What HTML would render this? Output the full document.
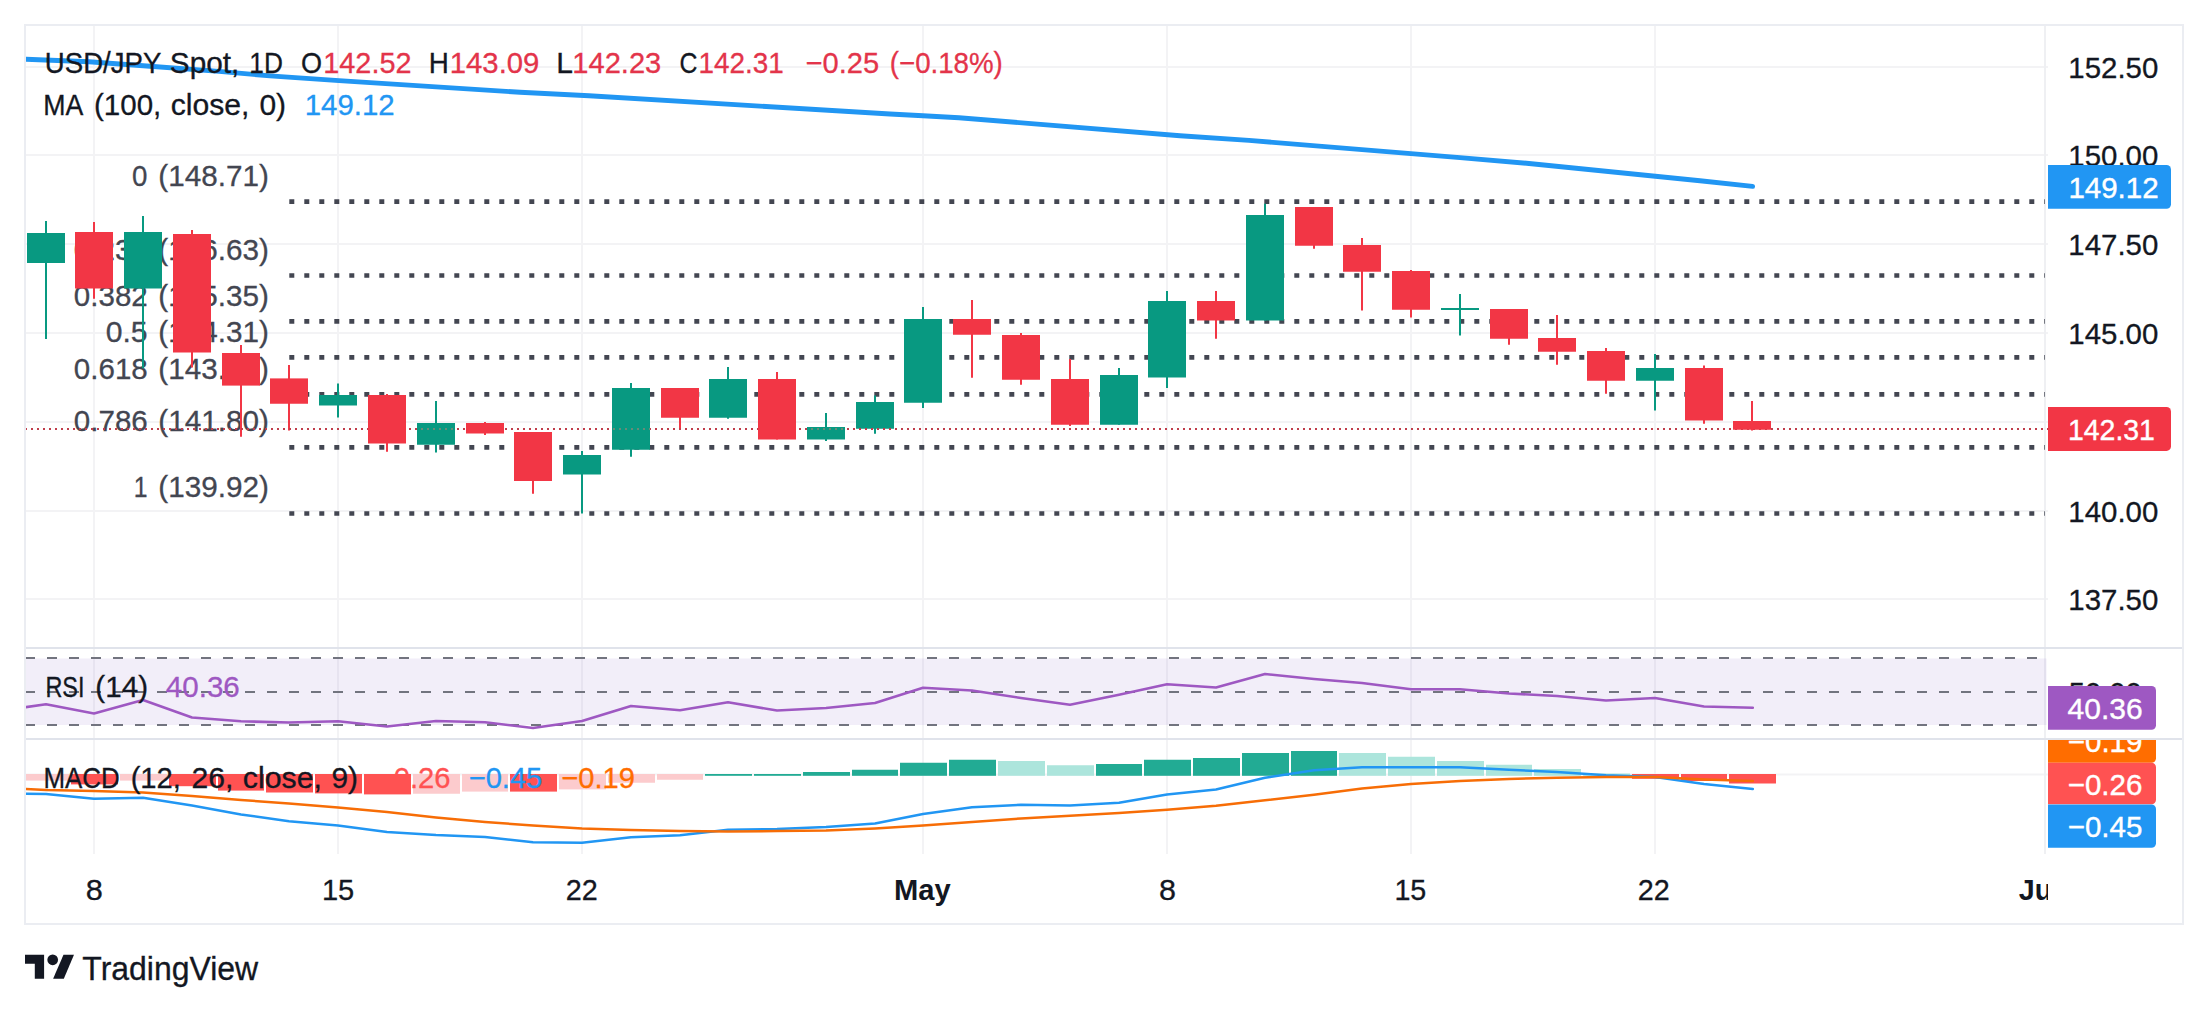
<!DOCTYPE html>
<html lang="en"><head><meta charset="utf-8"><title>USD/JPY Spot, 1D - TradingView</title>
<style>html,body{margin:0;padding:0;background:#fff;overflow:hidden}svg{display:block}</style></head>
<body>
<svg width="2208" height="1012" viewBox="0 0 2208 1012" font-family='"Liberation Sans", "DejaVu Sans", sans-serif'>
<rect width="2208" height="1012" fill="#fff"/>
<defs><clipPath id="cm"><rect x="26" y="26" width="2019" height="621"/></clipPath><clipPath id="cr"><rect x="26" y="649" width="2022" height="89"/></clipPath><clipPath id="cd"><rect x="26" y="740" width="2022" height="114"/></clipPath><clipPath id="cax"><rect x="2046" y="740" width="136" height="114"/></clipPath><clipPath id="ct"><rect x="26" y="854" width="2022" height="69"/></clipPath></defs>
<g fill="#f3f3f5"><rect x="26" y="66" width="2022" height="2"/><rect x="26" y="154" width="2022" height="2"/><rect x="26" y="243" width="2022" height="2"/><rect x="26" y="332" width="2022" height="2"/><rect x="26" y="421" width="2022" height="2"/><rect x="26" y="510" width="2022" height="2"/><rect x="26" y="598" width="2022" height="2"/><rect x="93" y="26" width="2" height="828"/><rect x="337" y="26" width="2" height="828"/><rect x="581" y="26" width="2" height="828"/><rect x="922" y="26" width="2" height="828"/><rect x="1166" y="26" width="2" height="828"/><rect x="1410" y="26" width="2" height="828"/><rect x="1654" y="26" width="2" height="828"/><rect x="26" y="773.5" width="2022" height="2"/></g>
<rect x="2044" y="26" width="2" height="828" fill="#eff0f3"/>
<g clip-path="url(#cm)">
<line x1="289.3" y1="201.6" x2="2047" y2="201.6" stroke="#434651" stroke-width="4.7" stroke-dasharray="5 10"/>
<line x1="289.3" y1="275.5" x2="2047" y2="275.5" stroke="#434651" stroke-width="4.7" stroke-dasharray="5 10"/>
<line x1="289.3" y1="321.4" x2="2047" y2="321.4" stroke="#434651" stroke-width="4.7" stroke-dasharray="5 10"/>
<line x1="289.3" y1="357.4" x2="2047" y2="357.4" stroke="#434651" stroke-width="4.7" stroke-dasharray="5 10"/>
<line x1="289.3" y1="394.3" x2="2047" y2="394.3" stroke="#434651" stroke-width="4.7" stroke-dasharray="5 10"/>
<line x1="289.3" y1="447.3" x2="2047" y2="447.3" stroke="#434651" stroke-width="4.7" stroke-dasharray="5 10"/>
<line x1="289.3" y1="513.5" x2="2047" y2="513.5" stroke="#434651" stroke-width="4.7" stroke-dasharray="5 10"/>
<text x="131.93" y="186.3" font-size="29.6" fill="#434651" stroke="#434651" stroke-width="0.3" textLength="15.40" lengthAdjust="spacingAndGlyphs">0</text>
<text x="158.39" y="186.3" font-size="29.6" fill="#434651" stroke="#434651" stroke-width="0.3" textLength="110.60" lengthAdjust="spacingAndGlyphs">(148.71)</text>
<text x="73.86" y="259.6" font-size="29.6" fill="#434651" stroke="#434651" stroke-width="0.3" textLength="73.89" lengthAdjust="spacingAndGlyphs">0.236</text>
<text x="158.39" y="259.6" font-size="29.6" fill="#434651" stroke="#434651" stroke-width="0.3" textLength="110.60" lengthAdjust="spacingAndGlyphs">(146.63)</text>
<text x="73.86" y="305.6" font-size="29.6" fill="#434651" stroke="#434651" stroke-width="0.3" textLength="73.94" lengthAdjust="spacingAndGlyphs">0.382</text>
<text x="158.39" y="305.6" font-size="29.6" fill="#434651" stroke="#434651" stroke-width="0.3" textLength="110.60" lengthAdjust="spacingAndGlyphs">(145.35)</text>
<text x="105.73" y="341.5" font-size="29.6" fill="#434651" stroke="#434651" stroke-width="0.3" textLength="41.89" lengthAdjust="spacingAndGlyphs">0.5</text>
<text x="158.39" y="341.5" font-size="29.6" fill="#434651" stroke="#434651" stroke-width="0.3" textLength="110.60" lengthAdjust="spacingAndGlyphs">(144.31)</text>
<text x="73.86" y="378.6" font-size="29.6" fill="#434651" stroke="#434651" stroke-width="0.3" textLength="73.90" lengthAdjust="spacingAndGlyphs">0.618</text>
<text x="158.39" y="378.6" font-size="29.6" fill="#434651" stroke="#434651" stroke-width="0.3" textLength="110.60" lengthAdjust="spacingAndGlyphs">(143.28)</text>
<text x="73.86" y="431.2" font-size="29.6" fill="#434651" stroke="#434651" stroke-width="0.3" textLength="73.89" lengthAdjust="spacingAndGlyphs">0.786</text>
<text x="158.39" y="431.2" font-size="29.6" fill="#434651" stroke="#434651" stroke-width="0.3" textLength="110.60" lengthAdjust="spacingAndGlyphs">(141.80)</text>
<text x="133.70" y="497" font-size="29.6" fill="#434651" stroke="#434651" stroke-width="0.3" textLength="13.78" lengthAdjust="spacingAndGlyphs">1</text>
<text x="158.39" y="497" font-size="29.6" fill="#434651" stroke="#434651" stroke-width="0.3" textLength="110.60" lengthAdjust="spacingAndGlyphs">(139.92)</text>
</g>
<g clip-path="url(#cm)">
<rect x="45" y="221" width="2" height="118" fill="#089981"/><rect x="27" y="233" width="38" height="30" fill="#089981"/>
<rect x="93" y="222" width="2" height="76.75" fill="#f23645"/><rect x="75" y="232" width="38" height="56.5" fill="#f23645"/>
<rect x="142" y="216" width="2" height="152.3" fill="#089981"/><rect x="124" y="232" width="38" height="56.5" fill="#089981"/>
<rect x="191" y="230" width="2" height="137.5" fill="#f23645"/><rect x="173" y="234" width="38" height="118.5" fill="#f23645"/>
<rect x="240" y="345" width="2" height="91.75" fill="#f23645"/><rect x="222" y="353" width="38" height="32.6" fill="#f23645"/>
<rect x="288" y="365" width="2" height="65.5" fill="#f23645"/><rect x="270" y="378.4" width="38" height="25.35" fill="#f23645"/>
<rect x="337" y="383.5" width="2" height="34.0" fill="#089981"/><rect x="319" y="395" width="38" height="10.5" fill="#089981"/>
<rect x="386" y="394" width="2" height="57.75" fill="#f23645"/><rect x="368" y="395" width="38" height="48.5" fill="#f23645"/>
<rect x="435" y="401" width="2" height="51.5" fill="#089981"/><rect x="417" y="423" width="38" height="21.75" fill="#089981"/>
<rect x="484" y="422" width="2" height="13" fill="#f23645"/><rect x="466" y="423" width="38" height="10.5" fill="#f23645"/>
<rect x="532" y="432" width="2" height="61.75" fill="#f23645"/><rect x="514" y="432" width="38" height="49" fill="#f23645"/>
<rect x="581" y="451" width="2" height="62.5" fill="#089981"/><rect x="563" y="455" width="38" height="19.5" fill="#089981"/>
<rect x="630" y="383" width="2" height="73.75" fill="#089981"/><rect x="612" y="388" width="38" height="61.75" fill="#089981"/>
<rect x="679" y="388" width="2" height="41.5" fill="#f23645"/><rect x="661" y="388" width="38" height="29.75" fill="#f23645"/>
<rect x="727" y="367" width="2" height="51.75" fill="#089981"/><rect x="709" y="379" width="38" height="38.75" fill="#089981"/>
<rect x="776" y="372" width="2" height="67.5" fill="#f23645"/><rect x="758" y="379" width="38" height="60.5" fill="#f23645"/>
<rect x="825" y="413" width="2" height="28" fill="#089981"/><rect x="807" y="427" width="38" height="12.5" fill="#089981"/>
<rect x="874" y="395.5" width="2" height="38.25" fill="#089981"/><rect x="856" y="402" width="38" height="26.75" fill="#089981"/>
<rect x="922" y="307" width="2" height="101" fill="#089981"/><rect x="904" y="319" width="38" height="83.75" fill="#089981"/>
<rect x="971" y="300" width="2" height="77.75" fill="#f23645"/><rect x="953" y="319" width="38" height="15.75" fill="#f23645"/>
<rect x="1020" y="333" width="2" height="51.75" fill="#f23645"/><rect x="1002" y="335" width="38" height="44.75" fill="#f23645"/>
<rect x="1069" y="359" width="2" height="67" fill="#f23645"/><rect x="1051" y="379" width="38" height="45.75" fill="#f23645"/>
<rect x="1118" y="368" width="2" height="56.75" fill="#089981"/><rect x="1100" y="375" width="38" height="49.75" fill="#089981"/>
<rect x="1166" y="291" width="2" height="97" fill="#089981"/><rect x="1148" y="301" width="38" height="76.5" fill="#089981"/>
<rect x="1215" y="291" width="2" height="47.75" fill="#f23645"/><rect x="1197" y="301" width="38" height="19.5" fill="#f23645"/>
<rect x="1264" y="203.75" width="2" height="116.75" fill="#089981"/><rect x="1246" y="215" width="38" height="105.5" fill="#089981"/>
<rect x="1313" y="207" width="2" height="41.75" fill="#f23645"/><rect x="1295" y="207" width="38" height="38.75" fill="#f23645"/>
<rect x="1361" y="238" width="2" height="72.5" fill="#f23645"/><rect x="1343" y="245" width="38" height="26.75" fill="#f23645"/>
<rect x="1410" y="270" width="2" height="47.5" fill="#f23645"/><rect x="1392" y="271" width="38" height="38.75" fill="#f23645"/>
<rect x="1459" y="294" width="2" height="41.5" fill="#089981"/><rect x="1441" y="308" width="38" height="2" fill="#089981"/>
<rect x="1508" y="309" width="2" height="35.75" fill="#f23645"/><rect x="1490" y="309" width="38" height="29.75" fill="#f23645"/>
<rect x="1556" y="315" width="2" height="49.75" fill="#f23645"/><rect x="1538" y="338" width="38" height="13.75" fill="#f23645"/>
<rect x="1605" y="348" width="2" height="45.75" fill="#f23645"/><rect x="1587" y="351" width="38" height="29.75" fill="#f23645"/>
<rect x="1654" y="354" width="2" height="56.5" fill="#089981"/><rect x="1636" y="368" width="38" height="12.75" fill="#089981"/>
<rect x="1703" y="365.5" width="2" height="58.25" fill="#f23645"/><rect x="1685" y="368" width="38" height="52.5" fill="#f23645"/>
<rect x="1751" y="401" width="2" height="29.5" fill="#f23645"/><rect x="1733" y="421" width="38" height="8.5" fill="#f23645"/>
<polyline fill="none" stroke="#2196f3" stroke-width="4.9" stroke-linejoin="round" stroke-linecap="round" points="22,59.15 26,59.3 89,61.7 150,66.3 219,71.4 270,75.9 339,80.6 520,92.3 589,95.7 890,114.0 923,115.8 959,117.7 1180,135.7 1249,140.4 1460,157.6 1529,163.5 1700,180.7 1752.6,186.4"/>
</g>
<line x1="25" y1="429" x2="2048" y2="429" stroke="#c03d4b" stroke-width="2" stroke-dasharray="2 4"/>
<rect x="421" y="428" width="2" height="2" fill="#668c78"/>
<rect x="427" y="428" width="2" height="2" fill="#668c78"/>
<rect x="433" y="428" width="2" height="2" fill="#668c78"/>
<rect x="439" y="428" width="2" height="2" fill="#668c78"/>
<rect x="445" y="428" width="2" height="2" fill="#668c78"/>
<rect x="451" y="428" width="2" height="2" fill="#668c78"/>
<rect x="613" y="428" width="2" height="2" fill="#668c78"/>
<rect x="619" y="428" width="2" height="2" fill="#668c78"/>
<rect x="625" y="428" width="2" height="2" fill="#668c78"/>
<rect x="631" y="428" width="2" height="2" fill="#668c78"/>
<rect x="637" y="428" width="2" height="2" fill="#668c78"/>
<rect x="643" y="428" width="2" height="2" fill="#668c78"/>
<rect x="649" y="428" width="1" height="2" fill="#668c78"/>
<rect x="811" y="428" width="2" height="2" fill="#668c78"/>
<rect x="817" y="428" width="2" height="2" fill="#668c78"/>
<rect x="823" y="428" width="2" height="2" fill="#668c78"/>
<rect x="829" y="428" width="2" height="2" fill="#668c78"/>
<rect x="835" y="428" width="2" height="2" fill="#668c78"/>
<rect x="841" y="428" width="2" height="2" fill="#668c78"/>
<rect x="368" y="428" width="38" height="2" fill="#f23645"/>
<rect x="466" y="428" width="38" height="2" fill="#f23645"/>
<rect x="758" y="428" width="38" height="2" fill="#f23645"/>
<rect x="1733" y="428" width="38" height="1.5" fill="#f23645"/>
<rect x="26" y="658.5" width="2020.5" height="66.5" fill="#7e57c2" fill-opacity="0.1"/>
<line x1="25" y1="658" x2="2048" y2="658" stroke="#72747f" stroke-width="2" stroke-dasharray="10 12"/>
<line x1="25" y1="692" x2="2048" y2="692" stroke="#72747f" stroke-width="2" stroke-dasharray="10 12"/>
<line x1="25" y1="725" x2="2048" y2="725" stroke="#72747f" stroke-width="2" stroke-dasharray="10 12"/>
<g clip-path="url(#cr)"><polyline fill="none" stroke="#9e58c2" stroke-width="2.6" stroke-linejoin="round" stroke-linecap="round" points="24,707.4 46,704.25 94,713.5 143,700 192,717.5 241,721.25 289,722.5 338,721.25 387,726.5 436,721 485,722.25 533,728 582,721 631,706 680,710.25 728,702.25 777,710.5 826,708 875,703 923,687.75 972,690.5 1021,698 1070,704.75 1119,694.75 1167,684.25 1216,687.5 1265,674 1314,679 1362,683 1411,689.25 1460,689.25 1509,693.5 1557,696 1606,700.5 1655,698 1704,706.5 1752.8,707.75"/></g>
<g clip-path="url(#cd)">
<rect x="23" y="774" width="46" height="6.6" fill="#fccbcd"/>
<rect x="71" y="774" width="47" height="10.4" fill="#ff5252"/>
<rect x="120" y="774" width="47" height="6.6" fill="#fccbcd"/>
<rect x="169" y="774" width="47" height="12.2" fill="#ff5252"/>
<rect x="218" y="774" width="46" height="16.6" fill="#ff5252"/>
<rect x="266" y="774" width="47" height="18.5" fill="#ff5252"/>
<rect x="315" y="774" width="47" height="19.4" fill="#ff5252"/>
<rect x="364" y="774" width="47" height="20.4" fill="#ff5252"/>
<rect x="413" y="774" width="47" height="19.75" fill="#fccbcd"/>
<rect x="462" y="774" width="46" height="17.6" fill="#fccbcd"/>
<rect x="510" y="774" width="47" height="17.6" fill="#ff5252"/>
<rect x="559" y="774" width="47" height="15.4" fill="#fccbcd"/>
<rect x="608" y="774" width="47" height="8.75" fill="#fccbcd"/>
<rect x="657" y="774" width="46" height="5.75" fill="#fccbcd"/>
<rect x="705" y="774" width="47" height="1.8" fill="#22ab94"/>
<rect x="754" y="774" width="47" height="1.8" fill="#22ab94"/>
<rect x="803" y="772" width="47" height="3.8" fill="#22ab94"/>
<rect x="852" y="769.75" width="46" height="6.05" fill="#22ab94"/>
<rect x="900" y="762.75" width="47" height="13.05" fill="#22ab94"/>
<rect x="949" y="759.75" width="47" height="16.05" fill="#22ab94"/>
<rect x="998" y="761" width="47" height="14.8" fill="#ace5dc"/>
<rect x="1047" y="765.25" width="47" height="10.55" fill="#ace5dc"/>
<rect x="1096" y="764" width="46" height="11.8" fill="#22ab94"/>
<rect x="1144" y="759.75" width="47" height="16.05" fill="#22ab94"/>
<rect x="1193" y="758" width="47" height="17.8" fill="#22ab94"/>
<rect x="1242" y="753" width="47" height="22.8" fill="#22ab94"/>
<rect x="1291" y="751" width="46" height="24.8" fill="#22ab94"/>
<rect x="1339" y="753" width="47" height="22.8" fill="#ace5dc"/>
<rect x="1388" y="756.75" width="47" height="19.05" fill="#ace5dc"/>
<rect x="1437" y="761" width="47" height="14.8" fill="#ace5dc"/>
<rect x="1486" y="764.75" width="46" height="11.05" fill="#ace5dc"/>
<rect x="1534" y="769" width="47" height="6.8" fill="#ace5dc"/>
<rect x="1583" y="773.5" width="47" height="2.3" fill="#ace5dc"/>
<rect x="1632" y="774" width="47" height="4.8" fill="#ff5252"/>
<rect x="1681" y="774" width="46" height="7" fill="#ff5252"/>
<rect x="1729" y="774" width="47" height="9.5" fill="#ff5252"/>
<polyline fill="none" stroke="#2196f3" stroke-width="2.5" stroke-linejoin="round" stroke-linecap="round" points="24,793.6 46,794 94,798.75 143,797.75 192,805.6 241,814.4 289,821.25 338,825.6 387,831.9 436,835 485,836.9 533,842.25 582,842.75 631,837.25 680,835.25 728,829.75 777,829 826,827 875,823.5 923,814 972,807.25 1021,804.75 1070,805.5 1119,802.75 1167,794.5 1216,789.5 1265,777.75 1314,770.25 1362,767.25 1411,767.25 1460,767.25 1509,769.75 1557,772 1606,775.25 1655,777 1704,784 1752.8,789"/>
<polyline fill="none" stroke="#f76d06" stroke-width="2.5" stroke-linejoin="round" stroke-linecap="round" points="24,789 46,790.0 94,791 143,792.5 192,796 241,800 289,803.5 338,807.5 387,812.1 436,817.5 485,821.9 533,825.6 582,828.6 631,830 680,831 728,831.5 777,831 826,830.5 875,828.5 923,825.5 972,822 1021,818.5 1070,815.75 1119,813 1167,809.75 1216,805.75 1265,800.25 1314,794.75 1362,788.5 1411,784 1460,781 1509,779 1557,777.75 1606,777 1655,777 1704,779.5 1752.8,781"/>
</g>
<g fill="#ebedf2"><rect x="24" y="24" width="2160" height="2"/><rect x="24" y="923" width="2160" height="2"/><rect x="24" y="24" width="2" height="901"/><rect x="2182" y="24" width="2" height="901"/></g>
<g fill="#e0e3eb"><rect x="26" y="647" width="2156" height="2"/><rect x="26" y="738" width="2156" height="2"/></g>
<text x="2068.36" y="78.2" font-size="29.6" fill="#131722" stroke="#131722" stroke-width="0.3" textLength="89.97" lengthAdjust="spacingAndGlyphs">152.50</text>
<text x="2068.36" y="166.2" font-size="29.6" fill="#131722" stroke="#131722" stroke-width="0.3" textLength="89.97" lengthAdjust="spacingAndGlyphs">150.00</text>
<text x="2068.36" y="255.2" font-size="29.6" fill="#131722" stroke="#131722" stroke-width="0.3" textLength="89.97" lengthAdjust="spacingAndGlyphs">147.50</text>
<text x="2068.36" y="344.2" font-size="29.6" fill="#131722" stroke="#131722" stroke-width="0.3" textLength="89.97" lengthAdjust="spacingAndGlyphs">145.00</text>
<text x="2068.36" y="522.2" font-size="29.6" fill="#131722" stroke="#131722" stroke-width="0.3" textLength="89.97" lengthAdjust="spacingAndGlyphs">140.00</text>
<text x="2068.36" y="610.2" font-size="29.6" fill="#131722" stroke="#131722" stroke-width="0.3" textLength="89.97" lengthAdjust="spacingAndGlyphs">137.50</text>
<text x="2068.76" y="703.2" font-size="29.6" fill="#131722" stroke="#131722" stroke-width="0.3" textLength="72.87" lengthAdjust="spacingAndGlyphs">50.00</text>
<path d="M2048 165h118.5a4.5 4.5 0 0 1 4.5 4.5v34.8a4.5 4.5 0 0 1 -4.5 4.5h-118.5z" fill="#2196f3"/>
<text x="2068.38" y="198.0" font-size="29.6" fill="#fff" stroke="#fff" stroke-width="0.4" textLength="90.27" lengthAdjust="spacingAndGlyphs">149.12</text>
<path d="M2048 407h118.5a4.5 4.5 0 0 1 4.5 4.5v34.9a4.5 4.5 0 0 1 -4.5 4.5h-118.5z" fill="#f23645"/>
<text x="2067.96" y="440.1" font-size="29.6" fill="#fff" stroke="#fff" stroke-width="0.4" textLength="86.98" lengthAdjust="spacingAndGlyphs">142.31</text>
<path d="M2048 686h103.5a4.5 4.5 0 0 1 4.5 4.5v34.8a4.5 4.5 0 0 1 -4.5 4.5h-103.5z" fill="#9e58c2"/>
<text x="2067.61" y="719.0" font-size="29.6" fill="#fff" stroke="#fff" stroke-width="0.4" textLength="75.02" lengthAdjust="spacingAndGlyphs">40.36</text>
<g clip-path="url(#cax)">
<path d="M2048 719.3h103.5a4.5 4.5 0 0 1 4.5 4.5v34.4a4.5 4.5 0 0 1 -4.5 4.5h-103.5z" fill="#ff6d00"/>
<text x="2067.70" y="752.1" font-size="29.6" fill="#fff" stroke="#fff" stroke-width="0.4" textLength="74.80" lengthAdjust="spacingAndGlyphs">−0.19</text>
</g>
<path d="M2048 762.7h103.5a4.5 4.5 0 0 1 4.5 4.5v32.6a4.5 4.5 0 0 1 -4.5 4.5h-103.5z" fill="#ff5252"/>
<text x="2067.70" y="794.6" font-size="29.6" fill="#fff" stroke="#fff" stroke-width="0.4" textLength="74.74" lengthAdjust="spacingAndGlyphs">−0.26</text>
<path d="M2048 804.5h103.5a4.5 4.5 0 0 1 4.5 4.5v34.3a4.5 4.5 0 0 1 -4.5 4.5h-103.5z" fill="#2196f3"/>
<text x="2067.70" y="837.2" font-size="29.6" fill="#fff" stroke="#fff" stroke-width="0.4" textLength="74.66" lengthAdjust="spacingAndGlyphs">−0.45</text>
<text x="44.85" y="72.8" font-size="28.6" fill="#131722" stroke="#131722" stroke-width="0.3" textLength="116.58" lengthAdjust="spacingAndGlyphs">USD/JPY</text>
<text x="169.87" y="72.8" font-size="28.6" fill="#131722" stroke="#131722" stroke-width="0.3" textLength="69.53" lengthAdjust="spacingAndGlyphs">Spot,</text>
<text x="249.32" y="72.8" font-size="28.6" fill="#131722" stroke="#131722" stroke-width="0.3" textLength="33.56" lengthAdjust="spacingAndGlyphs">1D</text>
<text x="300.88" y="72.8" font-size="28.6" fill="#131722" stroke="#131722" stroke-width="0.3" textLength="21.03" lengthAdjust="spacingAndGlyphs">O</text>
<text x="323.31" y="72.8" font-size="29.6" fill="#e3344a" stroke="#e3344a" stroke-width="0.3" textLength="88.19" lengthAdjust="spacingAndGlyphs">142.52</text>
<text x="428.85" y="72.8" font-size="28.6" fill="#131722" stroke="#131722" stroke-width="0.3" textLength="20.11" lengthAdjust="spacingAndGlyphs">H</text>
<text x="449.77" y="72.8" font-size="29.6" fill="#e3344a" stroke="#e3344a" stroke-width="0.3" textLength="89.65" lengthAdjust="spacingAndGlyphs">143.09</text>
<text x="556.18" y="72.8" font-size="28.6" fill="#131722" stroke="#131722" stroke-width="0.3" textLength="16.71" lengthAdjust="spacingAndGlyphs">L</text>
<text x="572.29" y="72.8" font-size="29.6" fill="#e3344a" stroke="#e3344a" stroke-width="0.3" textLength="88.94" lengthAdjust="spacingAndGlyphs">142.23</text>
<text x="679.42" y="72.8" font-size="28.6" fill="#131722" stroke="#131722" stroke-width="0.3" textLength="17.94" lengthAdjust="spacingAndGlyphs">C</text>
<text x="698.58" y="72.8" font-size="29.6" fill="#e3344a" stroke="#e3344a" stroke-width="0.3" textLength="85.18" lengthAdjust="spacingAndGlyphs">142.31</text>
<text x="805.57" y="72.8" font-size="29.6" fill="#e3344a" stroke="#e3344a" stroke-width="0.3" textLength="73.61" lengthAdjust="spacingAndGlyphs">−0.25</text>
<text x="889.75" y="72.8" font-size="29.6" fill="#e3344a" stroke="#e3344a" stroke-width="0.3" textLength="113.06" lengthAdjust="spacingAndGlyphs">(−0.18%)</text>
<text x="43.19" y="114.8" font-size="28.6" fill="#131722" stroke="#131722" stroke-width="0.3" textLength="40.06" lengthAdjust="spacingAndGlyphs">MA</text>
<text x="93.99" y="114.8" font-size="29.6" fill="#131722" stroke="#131722" stroke-width="0.3" textLength="67.35" lengthAdjust="spacingAndGlyphs">(100,</text>
<text x="170.65" y="114.8" font-size="28.6" fill="#131722" stroke="#131722" stroke-width="0.3" textLength="78.71" lengthAdjust="spacingAndGlyphs">close,</text>
<text x="259.44" y="114.8" font-size="29.6" fill="#131722" stroke="#131722" stroke-width="0.3" textLength="26.69" lengthAdjust="spacingAndGlyphs">0)</text>
<text x="304.77" y="114.8" font-size="29.6" fill="#2196f3" stroke="#2196f3" stroke-width="0.3" textLength="89.86" lengthAdjust="spacingAndGlyphs">149.12</text>
<text x="45.39" y="696.7" font-size="28.6" fill="#131722" stroke="#131722" stroke-width="0.3" textLength="39.09" lengthAdjust="spacingAndGlyphs">RSI</text>
<text x="95.39" y="696.7" font-size="29.6" fill="#131722" stroke="#131722" stroke-width="0.3" textLength="52.66" lengthAdjust="spacingAndGlyphs">(14)</text>
<text x="165.78" y="696.7" font-size="29.6" fill="#9e58c2" stroke="#9e58c2" stroke-width="0.3" textLength="74.07" lengthAdjust="spacingAndGlyphs">40.36</text>
<text x="43.40" y="787.5" font-size="28.6" fill="#131722" stroke="#131722" stroke-width="0.3" textLength="76.36" lengthAdjust="spacingAndGlyphs">MACD</text>
<text x="130.66" y="787.5" font-size="29.6" fill="#131722" stroke="#131722" stroke-width="0.3" textLength="50.28" lengthAdjust="spacingAndGlyphs">(12,</text>
<text x="191.57" y="787.5" font-size="29.6" fill="#131722" stroke="#131722" stroke-width="0.3" textLength="41.93" lengthAdjust="spacingAndGlyphs">26,</text>
<text x="242.85" y="787.5" font-size="28.6" fill="#131722" stroke="#131722" stroke-width="0.3" textLength="79.03" lengthAdjust="spacingAndGlyphs">close,</text>
<text x="331.43" y="787.5" font-size="29.6" fill="#131722" stroke="#131722" stroke-width="0.3" textLength="26.53" lengthAdjust="spacingAndGlyphs">9)</text>
<text x="376.67" y="787.5" font-size="29.6" fill="#ff5252" stroke="#ff5252" stroke-width="0.3" textLength="73.90" lengthAdjust="spacingAndGlyphs">−0.26</text>
<text x="468.67" y="787.5" font-size="29.6" fill="#2196f3" stroke="#2196f3" stroke-width="0.3" textLength="73.66" lengthAdjust="spacingAndGlyphs">−0.45</text>
<text x="561.17" y="787.5" font-size="29.6" fill="#ff6d00" stroke="#ff6d00" stroke-width="0.3" textLength="73.80" lengthAdjust="spacingAndGlyphs">−0.19</text>
<g clip-path="url(#ct)">
<text x="85.68" y="900" font-size="29.6" fill="#131722" stroke="#131722" stroke-width="0.3" textLength="17.12" lengthAdjust="spacingAndGlyphs">8</text>
<text x="321.89" y="900" font-size="29.6" fill="#131722" stroke="#131722" stroke-width="0.3" textLength="32.32" lengthAdjust="spacingAndGlyphs">15</text>
<text x="565.73" y="900" font-size="29.6" fill="#131722" stroke="#131722" stroke-width="0.3" textLength="31.99" lengthAdjust="spacingAndGlyphs">22</text>
<text x="893.93" y="900" font-size="29.6" fill="#131722" font-weight="bold" textLength="56.75" lengthAdjust="spacingAndGlyphs">May</text>
<text x="1158.94" y="900" font-size="29.6" fill="#131722" stroke="#131722" stroke-width="0.3" textLength="17.00" lengthAdjust="spacingAndGlyphs">8</text>
<text x="1394.42" y="900" font-size="29.6" fill="#131722" stroke="#131722" stroke-width="0.3" textLength="31.93" lengthAdjust="spacingAndGlyphs">15</text>
<text x="1637.73" y="900" font-size="29.6" fill="#131722" stroke="#131722" stroke-width="0.3" textLength="31.99" lengthAdjust="spacingAndGlyphs">22</text>
<text x="2018.84" y="900" font-size="29.6" fill="#131722" font-weight="bold" textLength="51.01" lengthAdjust="spacingAndGlyphs">Jun</text>
</g>
<g fill="#131722"><path d="M25 954.7H44.1V978.8H34.8V963.8H25z"/><circle cx="52.7" cy="959.8" r="5.35"/><path d="M63.5 954.7H74L63.8 978.8H53.1z"/></g>
<text x="82.31" y="979.7" font-size="32.8" fill="#131722" stroke="#131722" stroke-width="0.3" textLength="175.88" lengthAdjust="spacingAndGlyphs">TradingView</text>
</svg>
</body></html>
